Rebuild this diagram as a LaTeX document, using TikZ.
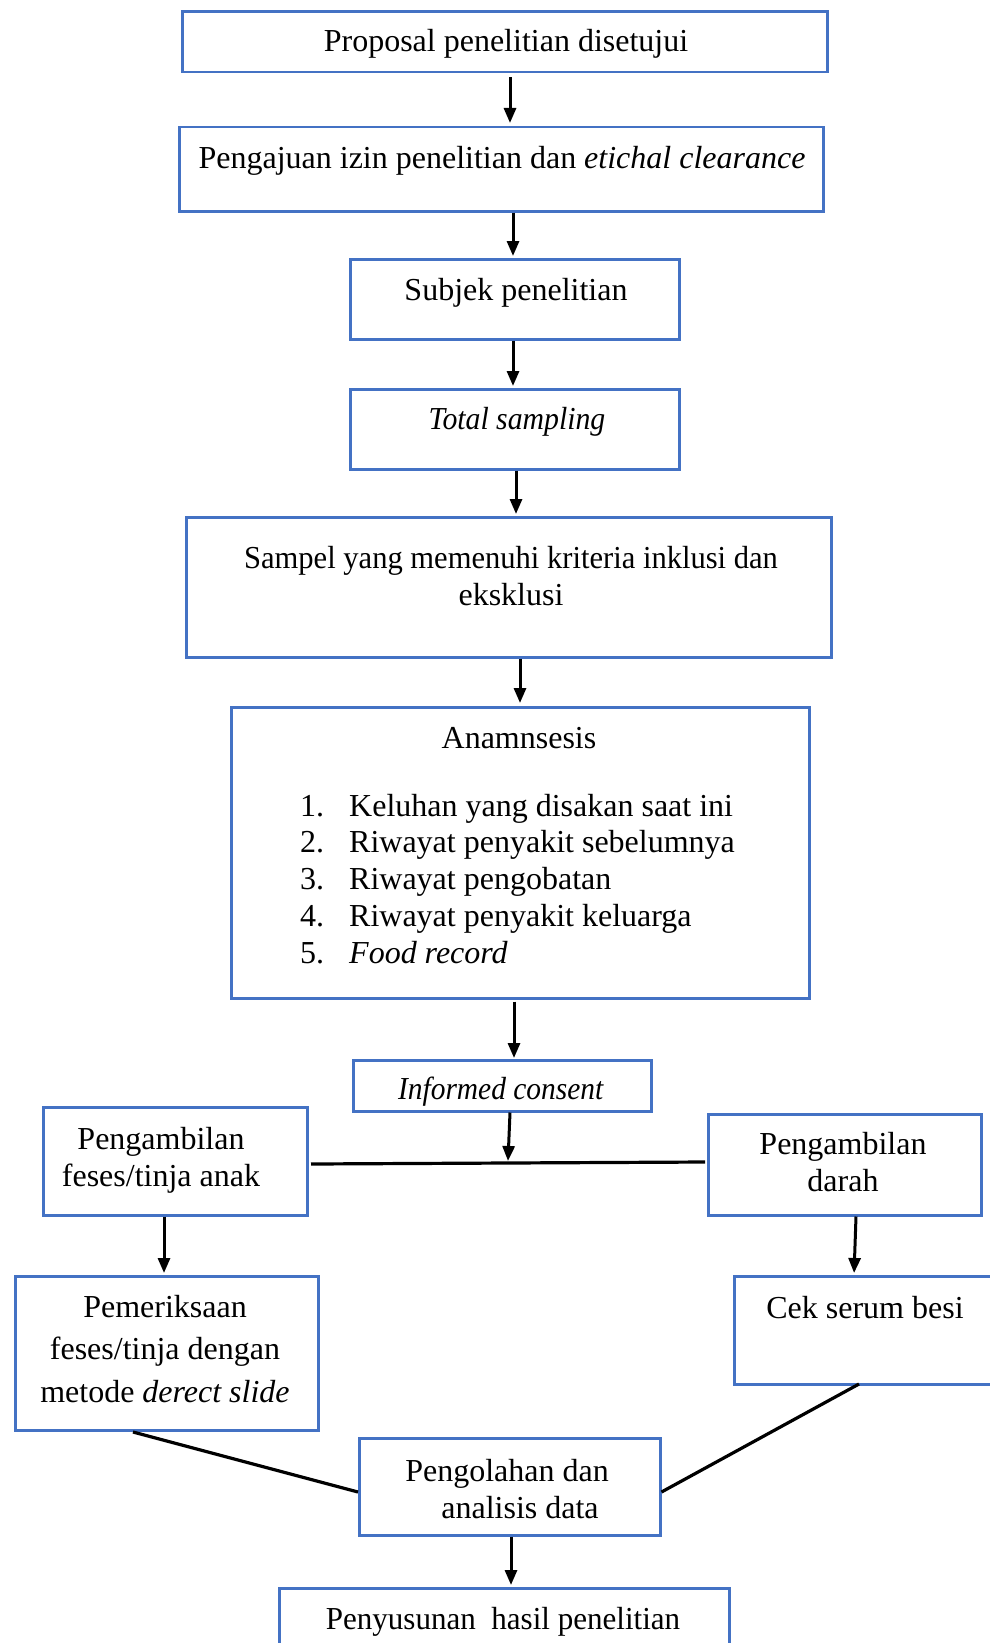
\documentclass[tikz,border=0pt]{standalone}
\usepackage{fontspec}
\setmainfont{Liberation Serif}
\usetikzlibrary{arrows.meta}
\definecolor{boxblue}{HTML}{4472C4}
\newcommand\fsz{\fontsize{32}{37}\selectfont}
\tikzset{
  box/.style={draw=boxblue, line width=2.5pt, rectangle, inner sep=0pt, anchor=north west},
  txt/.style={font=\fsz, inner sep=0pt, anchor=base, align=center},
  arr/.style={line width=3pt, -{Triangle[length=15pt,width=12pt]}},
  ln/.style={line width=3.2pt}
}
\begin{document}
\begin{tikzpicture}[x=1pt,y=-1pt]
\useasboundingbox (0,0) rectangle (990,1643);
\clip (0,0) rectangle (990,1643);
% boxes
\node[box, minimum width=645pt, minimum height=60.5pt] (b1) at (181,10.5) {};
\node[box, minimum width=644pt, minimum height=84pt] (b2) at (178,126) {};
\node[box, minimum width=329pt, minimum height=80pt] (b3) at (349,258) {};
\node[box, minimum width=329pt, minimum height=80pt] (b4) at (349,388) {};
\node[box, minimum width=645pt, minimum height=140pt] (b5) at (185,516) {};
\node[box, minimum width=578pt, minimum height=291pt] (b6) at (230,706) {};
\node[box, minimum width=298pt, minimum height=51pt] (ic) at (352,1059) {};
\node[box, minimum width=264pt, minimum height=108pt] (pf) at (42,1106) {};
\node[box, minimum width=273pt, minimum height=101pt] (pd) at (707,1113) {};
\node[box, minimum width=303pt, minimum height=154pt] (pm) at (14,1275) {};
\node[box, minimum width=300pt, minimum height=108pt] (cs) at (733,1275) {};
\node[box, minimum width=301pt, minimum height=97pt] (po) at (358,1437) {};
\node[box, minimum width=450pt, minimum height=80pt] (ph) at (278,1587) {};
% texts (multi-line nodes are placed by the baseline of their last line)
\node[txt] (t1) at (506,52) {Proposal penelitian disetujui};
\node[txt] (t2) at (502,168) {Pengajuan izin penelitian dan \textit{etichal clearance}};
\node[txt] (t3) at (516,300) {Subjek penelitian};
\node[txt] (t4) at (517,429) {\scalebox{0.93}[1]{\textit{Total sampling}}};
\node[txt] (t5) at (511,605) {\scalebox{0.955}[1]{Sampel yang memenuhi kriteria inklusi dan}\\eksklusi};
\node[txt] (t6) at (519,748) {Anamnsesis};
\node[txt, anchor=base west, align=left, font=\fontsize{32}{36.9}\selectfont] (t7) at (300,963.6)
  {\makebox[49pt][l]{1.}Keluhan yang disakan saat ini\\
   \makebox[49pt][l]{2.}Riwayat penyakit sebelumnya\\
   \makebox[49pt][l]{3.}Riwayat pengobatan\\
   \makebox[49pt][l]{4.}Riwayat penyakit keluarga\\
   \makebox[49pt][l]{5.}\textit{Food record}};
\node[txt] (t8) at (501,1099) {\scalebox{0.92}[1]{\textit{Informed consent}}};
\node[txt] (t9) at (161,1186) {Pengambilan\\feses/tinja anak};
\node[txt] (t10) at (843,1191) {Pengambilan\\darah};
\node[txt, font=\fontsize{32}{42.5}\selectfont] (t11) at (165,1402) {Pemeriksaan\\feses/tinja dengan\\metode \textit{derect slide}};
\node[txt] (t12) at (865,1318) {Cek serum besi};
\node[txt] (t13) at (507,1518) {Pengolahan dan\\\hspace*{26pt}analisis data};
\node[txt] (t14) at (503,1629) {\scalebox{0.97}[1]{Penyusunan\ \ hasil penelitian}};
% x positions for connectors
\coordinate (xa) at (510,0);
\coordinate (xb) at (513,0);
\coordinate (xc) at (516,0);
\coordinate (xd) at (520,0);
\coordinate (xe) at (514,0);
\coordinate (xf) at (164,0);
\coordinate (xg) at (511,0);
% junction line
\coordinate (jl) at (311,1164);
\coordinate (jr) at (705,1162);
\coordinate (jm) at (508,1161);
% arrows
\draw[arr, shorten <=4pt, shorten >=3pt] (b1.south -| xa) -- (b2.north -| xa);
\draw[arr, shorten >=2pt] (b2.south -| xb) -- (b3.north -| xb);
\draw[arr, shorten >=2pt] (b3.south -| xb) -- (b4.north -| xb);
\draw[arr, shorten >=2pt] (b4.south -| xc) -- (b5.north -| xc);
\draw[arr, shorten >=3pt] (b5.south -| xd) -- (b6.north -| xd);
\draw[arr, shorten <=2pt, shorten >=1pt] (b6.south -| xe) -- (ic.north -| xe);
\draw[ln] (jl) -- (jr);
\draw[arr] (ic.south -| xa) -- (jm);
\draw[arr, shorten >=2pt] (pf.south -| xf) -- (pm.north -| xf);
\draw[arr, shorten >=2pt] ([xshift=149pt]pd.south west) -- ([xshift=121pt]cs.north west);
\draw[arr, shorten >=2pt] (po.south -| xg) -- (ph.north -| xg);
% lines to analysis
\coordinate (ya) at (133,1432);
\coordinate (yb) at (0,1492);
\coordinate (yc) at (859,1384);
\draw[ln] (ya) -- (po.west |- yb);
\draw[ln] (yc) -- (po.east |- yb);
\end{tikzpicture}
\end{document}
